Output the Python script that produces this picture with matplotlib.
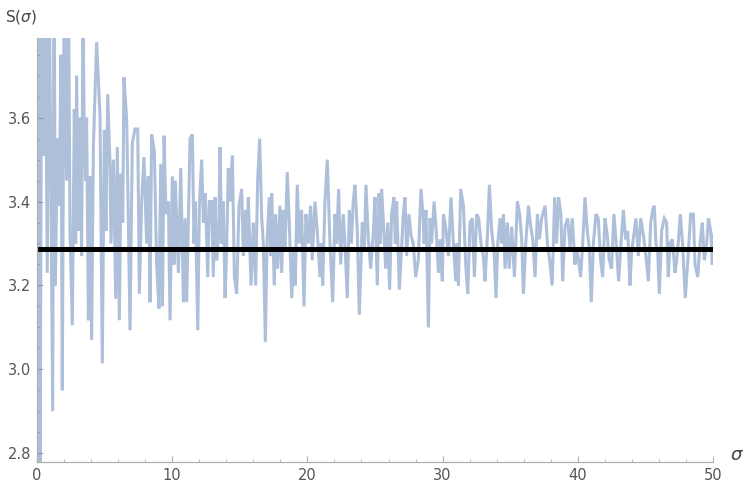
import matplotlib
matplotlib.use("Agg")
import matplotlib.pyplot as plt
from matplotlib.ticker import MultipleLocator, FormatStrFormatter

# Values (sigma, S(sigma)); extremes beyond the frame are clipped
sigma = [
    0.00, 0.10, 0.22, 0.35, 0.47, 0.59, 0.76, 0.89, 1.16, 1.26, 1.36, 1.50, 1.65, 1.77, 1.87,
    2.02, 2.19, 2.32, 2.44, 2.61, 2.76, 2.86, 2.93, 3.06, 3.18, 3.30, 3.40, 3.50, 3.60, 3.67,
    3.80, 3.92, 4.04, 4.17, 4.41, 4.66, 4.83, 4.98, 5.10, 5.23, 5.40, 5.47, 5.65, 5.82, 5.94,
    6.09, 6.21, 6.34, 6.43, 6.63, 6.71, 6.88, 7.05, 7.25, 7.45, 7.57, 7.74, 7.91, 8.11, 8.23,
    8.36, 8.48, 8.68, 8.85, 9.02, 9.15, 9.28, 9.40, 9.54, 9.72, 9.84, 10.01, 10.14, 10.23,
    10.46, 10.63, 10.83, 10.95, 11.07, 11.32, 11.49, 11.61, 11.71, 11.89, 12.01, 12.18, 12.31,
    12.45, 12.63, 12.75, 12.92, 13.04, 13.17, 13.29, 13.44, 13.54, 13.66, 13.78, 13.91, 14.03,
    14.15, 14.27, 14.45, 14.60, 14.77, 14.94, 15.14, 15.26, 15.43, 15.53, 15.63, 15.83, 16.00,
    16.17, 16.32, 16.47, 16.62, 16.74, 16.89, 17.01, 17.18, 17.28, 17.36, 17.55, 17.65, 17.80,
    17.97, 18.10, 18.22, 18.34, 18.51, 18.66, 18.84, 19.01, 19.10, 19.25, 19.40, 19.57, 19.75,
    19.89, 20.07, 20.24, 20.36, 20.56, 20.73, 20.93, 21.03, 21.13, 21.30, 21.47, 21.67, 21.87,
    22.04, 22.16, 22.31, 22.46, 22.65, 22.78, 22.95, 23.10, 23.25, 23.39, 23.52, 23.69, 23.84,
    24.06, 24.21, 24.33, 24.51, 24.68, 24.88, 25.00, 25.17, 25.30, 25.39, 25.49, 25.62, 25.79,
    25.94, 26.08, 26.23, 26.40, 26.50, 26.60, 26.80, 26.97, 27.09, 27.22, 27.34, 27.51, 27.66,
    27.83, 28.01, 28.20, 28.40, 28.57, 28.63, 28.77, 28.95, 29.07, 29.19, 29.37, 29.51, 29.69,
    29.81, 29.98, 30.06, 30.23, 30.43, 30.62, 30.80, 30.97, 31.07, 31.17, 31.34, 31.54, 31.71,
    31.86, 32.03, 32.20, 32.35, 32.52, 32.67, 32.84, 33.01, 33.14, 33.33, 33.46, 33.63, 33.81,
    33.95, 34.08, 34.25, 34.37, 34.50, 34.62, 34.79, 34.92, 35.11, 35.31, 35.53, 35.70, 35.85,
    35.98, 36.15, 36.35, 36.52, 36.67, 36.84, 37.01, 37.16, 37.33, 37.58, 37.75, 37.92, 38.10,
    38.29, 38.43, 38.58, 38.75, 38.88, 39.05, 39.25, 39.42, 39.59, 39.79, 39.91, 40.06, 40.21,
    40.36, 40.53, 40.70, 40.85, 41.00, 41.15, 41.34, 41.51, 41.69, 41.84, 42.01, 42.18, 42.33,
    42.50, 42.67, 42.82, 43.02, 43.19, 43.37, 43.54, 43.69, 43.86, 43.98, 44.18, 44.30, 44.48,
    44.65, 44.85, 45.04, 45.22, 45.39, 45.54, 45.66, 45.78, 45.91, 46.03, 46.20, 46.40, 46.57,
    46.69, 46.82, 46.99, 47.19, 47.31, 47.43, 47.58, 47.75, 47.95, 48.18, 48.35, 48.55, 48.67,
    48.87, 49.04, 49.21, 49.36, 49.53, 49.66, 49.83, 49.95, 50.00,
]
S = [
    4.20, 4.00, 2.60, 4.00, 3.51, 4.00, 3.23, 4.00, 2.90, 4.00, 3.20, 3.55, 3.39, 3.75, 2.95,
    4.00, 3.45, 4.00, 3.33, 3.105, 3.62, 3.30, 3.70, 3.33, 3.60, 3.27, 3.85, 3.56, 3.45, 3.60,
    3.117, 3.46, 3.07, 3.53, 3.78, 3.605, 3.014, 3.57, 3.33, 3.656, 3.49, 3.30, 3.50, 3.168, 3.53,
    3.117, 3.466, 3.35, 3.696, 3.597, 3.45, 3.093, 3.54, 3.573, 3.573, 3.18, 3.40, 3.506, 3.30, 3.46,
    3.16, 3.56, 3.52, 3.25, 3.145, 3.49, 3.15, 3.557, 3.37, 3.40, 3.117, 3.46, 3.25, 3.45,
    3.23, 3.48, 3.16, 3.36, 3.16, 3.55, 3.56, 3.30, 3.40, 3.093, 3.39, 3.50, 3.35,
    3.42, 3.22, 3.40, 3.40, 3.22, 3.41, 3.26, 3.32, 3.53, 3.30, 3.40, 3.17, 3.29,
    3.48, 3.40, 3.51, 3.22, 3.18, 3.39, 3.43, 3.27, 3.38, 3.28, 3.41, 3.20, 3.35,
    3.20, 3.45, 3.55, 3.36, 3.30, 3.065, 3.30, 3.41, 3.27, 3.42, 3.20, 3.37, 3.24,
    3.39, 3.23, 3.38, 3.28, 3.47, 3.35, 3.17, 3.29, 3.20, 3.44, 3.30, 3.38, 3.15,
    3.37, 3.30, 3.39, 3.26, 3.40, 3.33, 3.22, 3.30, 3.20, 3.40, 3.50, 3.30, 3.16,
    3.37, 3.30, 3.43, 3.25, 3.37, 3.30, 3.17, 3.38, 3.30, 3.40, 3.44, 3.33, 3.13,
    3.35, 3.28, 3.44, 3.31, 3.24, 3.33, 3.41, 3.20, 3.42, 3.30, 3.43, 3.35, 3.24,
    3.35, 3.19, 3.37, 3.41, 3.30, 3.40, 3.19, 3.29, 3.37, 3.41, 3.27, 3.37, 3.32,
    3.30, 3.22, 3.26, 3.43, 3.36, 3.30, 3.38, 3.10, 3.36, 3.30, 3.40, 3.34, 3.23,
    3.31, 3.21, 3.37, 3.34, 3.27, 3.41, 3.30, 3.21, 3.30, 3.20, 3.43, 3.39, 3.25,
    3.18, 3.35, 3.36, 3.22, 3.37, 3.36, 3.30, 3.27, 3.21, 3.33, 3.44, 3.33, 3.28,
    3.17, 3.30, 3.36, 3.30, 3.37, 3.24, 3.35, 3.24, 3.34, 3.22, 3.40, 3.37, 3.31,
    3.18, 3.30, 3.39, 3.34, 3.31, 3.22, 3.37, 3.31, 3.36, 3.39, 3.30, 3.26, 3.20,
    3.41, 3.30, 3.41, 3.37, 3.21, 3.34, 3.36, 3.29, 3.36, 3.25, 3.29, 3.26, 3.22,
    3.30, 3.41, 3.33, 3.29, 3.16, 3.30, 3.37, 3.36, 3.26, 3.22, 3.36, 3.32, 3.26,
    3.24, 3.37, 3.31, 3.21, 3.30, 3.38, 3.31, 3.33, 3.20, 3.28, 3.33, 3.36, 3.27,
    3.36, 3.32, 3.27, 3.21, 3.35, 3.38, 3.39, 3.30, 3.28, 3.18, 3.33, 3.36, 3.35,
    3.22, 3.30, 3.31, 3.23, 3.26, 3.30, 3.37, 3.30, 3.17, 3.28, 3.37, 3.37, 3.25,
    3.22, 3.30, 3.35, 3.26, 3.30, 3.36, 3.33, 3.25, 3.32,
]
mean_level = 3.2857
x_ticks = [0, 10, 20, 30, 40, 50]
y_ticks = [2.8, 3.0, 3.2, 3.4, 3.6]

fig = plt.figure(figsize=(7.47, 4.94), dpi=100)
ax = fig.add_axes([37/747, 1 - 462/494, 676/747, 424/494])

ax.plot(sigma, S, color=(0.368, 0.507, 0.71), alpha=0.5, lw=2.2, solid_joinstyle='miter')
ax.plot([0, 50], [mean_level, mean_level], color='black', lw=3.6, solid_capstyle='butt')

ax.set_xlim(0, 50)
ax.set_ylim(2.779, 3.79)

for s in ['top', 'right']:
    ax.spines[s].set_visible(False)
for s in ['left', 'bottom']:
    ax.spines[s].set_color('#b0b0b0')
    ax.spines[s].set_linewidth(0.9)

ax.set_xticks(x_ticks)
ax.set_yticks(y_ticks)
ax.xaxis.set_minor_locator(MultipleLocator(2))
ax.yaxis.set_minor_locator(MultipleLocator(0.05))
ax.yaxis.set_major_formatter(FormatStrFormatter('%.1f'))
ax.tick_params(which='major', direction='in', length=4.5, width=0.8, color='#b0b0b0',
               labelsize=10.5, labelcolor='#555555', pad=4)
ax.tick_params(which='minor', direction='in', length=2.5, width=0.6, color='#b0b0b0')

fig.text(5/747, 1 - 17/494, 'S($\\sigma$)', fontsize=11, color='#444444', va='center', ha='left')
fig.text(730/747, 1 - 455/494, '$\\sigma$', fontsize=13, color='#444444', va='center', ha='left')

fig.savefig('out.png', dpi=100)
